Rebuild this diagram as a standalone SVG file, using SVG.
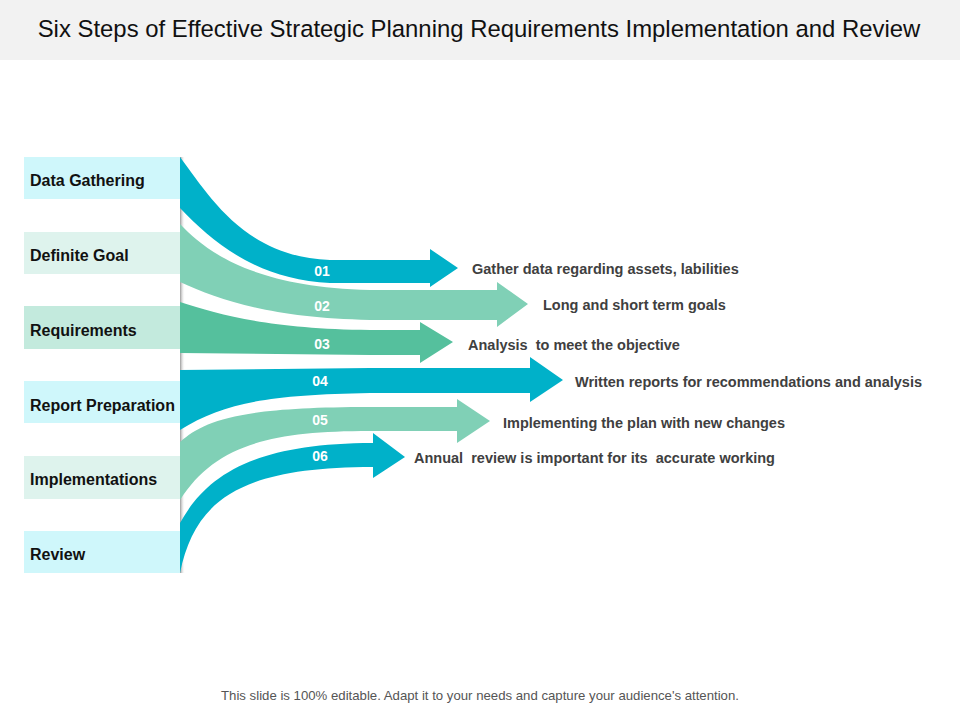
<svg xmlns="http://www.w3.org/2000/svg" width="960" height="720" viewBox="0 0 960 720">
<defs>
<style>
.title{font-family:"Liberation Sans",Arial,sans-serif;font-size:23.9px;fill:#111;}
.foot{font-family:"Liberation Sans",Arial,sans-serif;font-size:13.2px;fill:#555;}
.lbl{font-family:"Liberation Sans",Arial,sans-serif;font-size:16px;font-weight:bold;fill:#111;}
.num{font-family:"Liberation Sans",Arial,sans-serif;font-size:14px;font-weight:bold;fill:#fff;text-anchor:middle;}
.desc{font-family:"Liberation Sans",Arial,sans-serif;font-size:14.5px;font-weight:bold;fill:#404040;}
.teal{fill:#00B1C9;}
.lgreen{fill:#80D0B6;}
.mgreen{fill:#55C09D;}
.bc{fill:#CFF7FB;}
.bm{fill:#DEF3ED;}
.bg{fill:#C3EADD;}
</style>
<linearGradient id="shadow" x1="0" y1="0" x2="1" y2="0">
<stop offset="0" stop-color="#9a9a9a"/>
<stop offset="1" stop-color="#ffffff" stop-opacity="0"/>
</linearGradient>
</defs>
<rect x="0" y="0" width="960" height="720" fill="#fff"/>
<rect x="0" y="0" width="960" height="60" fill="#F2F2F2"/>
<text class="title" x="479" y="37" text-anchor="middle">Six Steps of Effective Strategic Planning Requirements Implementation and Review</text>

<rect x="180" y="157" width="5" height="416" fill="url(#shadow)"/>

<g id="node-data-gathering"><rect class="bc" x="24" y="157" width="156" height="42"/><text class="lbl" x="30" y="186">Data Gathering</text></g>
<g id="node-definite-goal"><rect class="bm" x="24" y="232" width="156" height="42"/><text class="lbl" x="30" y="261">Definite Goal</text></g>
<g id="node-requirements"><rect class="bg" x="24" y="306" width="156" height="43"/><text class="lbl" x="30" y="336">Requirements</text></g>
<g id="node-report-preparation"><rect class="bc" x="24" y="381" width="156" height="42"/><text class="lbl" x="30" y="411">Report Preparation</text></g>
<g id="node-implementations"><rect class="bm" x="24" y="456" width="156" height="43"/><text class="lbl" x="30" y="485">Implementations</text></g>
<g id="node-review"><rect class="bc" x="24" y="531" width="156" height="42"/><text class="lbl" x="30" y="560">Review</text></g>

<g id="connectors">
<path id="arrow-01" class="teal" d="M180,157 C210,197 245,257 330,260 L430,260 L430,249 L458,268 L430,287 L430,283 L330,283 C260,280 215,245 180,208 Z"/>
<path id="arrow-02" class="lgreen" d="M180,224 C205,250 250,287 370,290 L497,290 L497,282 L528,304 L497,327 L497,320 L370,320 C270,318 220,300 180,282 Z"/>
<path id="arrow-03" class="mgreen" d="M180,302 C220,315 270,329 370,330 L420,330 L420,322 L453,342 L420,363 L420,355 L370,355 L180,353 Z"/>
<path id="arrow-04" class="teal" d="M180,370 L370,368 L530,368 L530,357 L563,380 L530,402 L530,393 L370,393 C270,395 225,402 180,430 Z"/>
<path id="arrow-05" class="lgreen" d="M180,442 C205,420 240,407 370,407 L457,407 L457,399 L490,421 L457,443 L457,431 L370,431 C270,431 215,445 180,500 Z"/>
<path id="arrow-06" class="teal" d="M180,523 C205,478 250,443 373,443 L373,433 L405,457 L373,478 L373,467 C240,467 195,500 180,573 Z"/>
</g>

<g id="step-numbers">
<text class="num" x="322" y="276">01</text>
<text class="num" x="322" y="311">02</text>
<text class="num" x="322" y="349">03</text>
<text class="num" x="320" y="386">04</text>
<text class="num" x="320" y="425">05</text>
<text class="num" x="320" y="461">06</text>
</g>

<g id="descriptions">
<text class="desc" x="472" y="274">Gather data regarding assets, labilities</text>
<text class="desc" x="543" y="310">Long and short term goals</text>
<text class="desc" x="468" y="350" xml:space="preserve">Analysis  to meet the objective</text>
<text class="desc" x="575" y="387">Written reports for recommendations and analysis</text>
<text class="desc" x="503" y="428">Implementing the plan with new changes</text>
<text class="desc" x="414" y="463" xml:space="preserve">Annual  review is important for its  accurate working</text>
</g>

<text class="foot" x="480" y="700" text-anchor="middle">This slide is 100% editable. Adapt it to your needs and capture your audience's attention.</text>
</svg>
